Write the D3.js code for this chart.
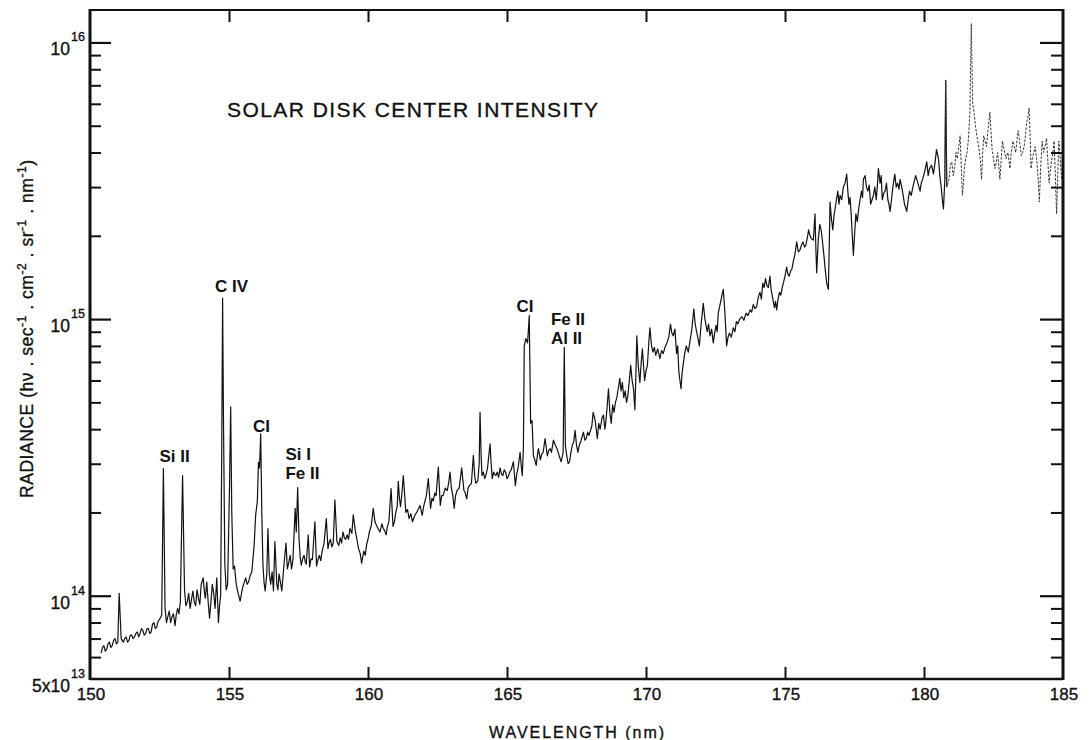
<!DOCTYPE html>
<html><head><meta charset="utf-8">
<script src="https://cdn.jsdelivr.net/npm/d3@7"></script>
<style>
html,body{margin:0;padding:0;background:#fff;}
text{font-family:"Liberation Sans","DejaVu Sans",sans-serif;fill:#111;}
</style></head>
<body><svg id="chart" width="1091" height="740"></svg>
<script>
// ---- data: [wavelength (nm), radiance in units of 1e14 photons s-1 cm-2 sr-1 nm-1] ----
const RADIANCE_UNIT = 1e14;
const spectrumPoints = [
[150.40,0.62],[150.45,0.65],[150.5,0.66],[150.55,0.63],[150.6,0.64],[150.65,0.67],[150.7,0.68],[150.75,0.65],[150.8,0.66],[150.85,0.69],[150.9,0.70],[150.95,0.67],[151.0,0.68],[151.05,1.02],[151.12,0.70],[151.2,0.68],[151.25,0.70],[151.3,0.71],[151.35,0.68],[151.4,0.69],[151.45,0.72],[151.5,0.72],[151.55,0.70],[151.6,0.71],[151.65,0.73],[151.7,0.74],[151.75,0.71],[151.8,0.73],[151.85,0.76],[151.9,0.75],[151.95,0.72],[152.0,0.73],[152.05,0.76],[152.1,0.76],[152.15,0.73],[152.2,0.74],[152.25,0.79],[152.3,0.80],[152.35,0.76],[152.4,0.77],[152.45,0.81],[152.5,0.82],[152.58,0.85],[152.64,2.88],[152.70,0.90],[152.75,0.80],[152.8,0.84],[152.85,0.88],[152.9,0.80],[152.95,0.84],[153.0,0.86],[153.06,0.78],[153.1,0.85],[153.15,0.90],[153.2,0.86],[153.25,0.95],[153.33,2.72],[153.4,1.05],[153.45,0.92],[153.5,0.95],[153.55,1.02],[153.6,0.90],[153.65,0.97],[153.7,1.04],[153.75,0.95],[153.8,0.92],[153.85,1.05],[153.9,0.98],[153.95,0.93],[154.0,1.10],[154.07,1.16],[154.12,1.02],[154.15,0.98],[154.2,1.12],[154.25,0.95],[154.3,0.83],[154.35,0.95],[154.4,1.10],[154.45,1.02],[154.5,0.90],[154.56,1.16],[154.62,0.80],[154.66,0.92],[154.7,1.00],[154.74,3.5],[154.77,11.9],[154.80,4.5],[154.85,1.3],[154.9,1.05],[154.95,1.1],[155.02,2.5],[155.06,4.82],[155.10,2.0],[155.15,1.25],[155.2,1.28],[155.25,1.12],[155.3,1.05],[155.35,1.0],[155.4,0.955],[155.45,1.02],[155.5,1.08],[155.55,1.12],[155.6,1.16],[155.65,1.10],[155.7,1.12],[155.76,1.18],[155.82,1.22],[155.9,1.5],[155.96,1.96],[156.02,2.2],[156.06,3.04],[156.1,2.9],[156.14,3.85],[156.18,2.0],[156.22,1.3],[156.26,1.12],[156.3,1.04],[156.36,1.2],[156.4,1.75],[156.45,1.2],[156.5,1.1],[156.55,1.22],[156.6,1.04],[156.65,1.57],[156.72,1.1],[156.76,1.05],[156.8,1.2],[156.85,1.12],[156.9,1.04],[156.98,1.3],[157.05,1.55],[157.1,1.25],[157.15,1.32],[157.2,1.4],[157.25,1.25],[157.3,1.35],[157.38,2.07],[157.42,1.7],[157.47,2.46],[157.52,1.6],[157.56,1.38],[157.6,1.29],[157.65,1.36],[157.7,1.4],[157.74,1.33],[157.78,1.3],[157.85,1.66],[157.9,1.27],[157.95,1.36],[158.0,1.35],[158.09,1.85],[158.15,1.28],[158.2,1.35],[158.25,1.4],[158.3,1.34],[158.35,1.45],[158.42,1.55],[158.5,1.9],[158.56,1.48],[158.6,1.55],[158.65,1.6],[158.7,1.5],[158.75,1.55],[158.81,2.22],[158.88,1.57],[158.95,1.52],[159.0,1.62],[159.05,1.55],[159.1,1.7],[159.15,1.62],[159.2,1.6],[159.25,1.66],[159.3,1.6],[159.35,1.75],[159.42,1.68],[159.47,1.96],[159.55,1.7],[159.6,1.6],[159.66,1.48],[159.72,1.42],[159.77,1.31],[159.82,1.4],[159.85,1.45],[159.9,1.4],[159.95,1.53],[160.0,1.6],[160.05,1.7],[160.12,1.8],[160.19,2.07],[160.25,1.85],[160.3,1.8],[160.36,1.75],[160.43,1.7],[160.5,1.82],[160.55,1.75],[160.6,1.72],[160.65,1.66],[160.7,1.78],[160.75,1.85],[160.83,2.44],[160.9,1.78],[160.95,1.85],[161.0,2.0],[161.05,2.1],[161.09,2.59],[161.13,2.25],[161.17,2.1],[161.22,2.35],[161.27,2.72],[161.32,2.3],[161.36,2.0],[161.42,2.05],[161.48,1.9],[161.54,1.98],[161.6,1.85],[161.68,1.95],[161.75,2.0],[161.8,2.05],[161.87,2.12],[161.95,1.95],[162.0,2.1],[162.05,2.2],[162.1,2.3],[162.17,2.65],[162.25,2.07],[162.3,2.25],[162.35,2.2],[162.4,2.35],[162.45,2.3],[162.53,2.92],[162.6,2.12],[162.65,2.3],[162.7,2.3],[162.78,2.45],[162.85,2.4],[162.9,2.55],[162.95,2.8],[163.0,2.45],[163.05,2.3],[163.1,2.07],[163.15,2.3],[163.2,2.4],[163.28,2.45],[163.37,2.9],[163.45,2.4],[163.5,2.35],[163.55,2.24],[163.6,2.45],[163.65,2.5],[163.72,2.55],[163.79,3.22],[163.84,2.7],[163.88,2.55],[163.95,2.6],[164.0,3.0],[164.03,4.6],[164.07,3.2],[164.1,2.72],[164.15,2.8],[164.2,2.65],[164.25,2.75],[164.3,2.9],[164.39,3.54],[164.43,3.0],[164.47,2.65],[164.52,2.8],[164.55,2.75],[164.6,2.72],[164.65,2.8],[164.7,2.68],[164.75,2.9],[164.8,2.75],[164.85,2.72],[164.9,2.85],[164.95,2.8],[165.0,2.65],[165.05,2.7],[165.1,2.8],[165.15,2.85],[165.23,3.05],[165.3,2.5],[165.35,2.75],[165.4,2.9],[165.47,3.3],[165.52,2.9],[165.55,2.72],[165.59,3.4],[165.62,8.0],[165.68,8.5],[165.74,8.2],[165.8,10.3],[165.85,4.2],[165.9,4.3],[165.95,3.2],[166.0,3.1],[166.05,2.96],[166.09,3.2],[166.13,3.4],[166.2,3.1],[166.25,3.25],[166.3,3.3],[166.37,3.7],[166.45,3.2],[166.5,3.35],[166.55,3.4],[166.6,3.3],[166.67,3.65],[166.74,3.5],[166.8,3.4],[166.88,3.2],[166.95,3.05],[167.02,3.3],[167.06,7.9],[167.1,3.5],[167.15,3.2],[167.2,3.0],[167.25,3.05],[167.3,3.3],[167.35,3.5],[167.4,3.6],[167.45,3.96],[167.5,3.5],[167.55,3.3],[167.6,3.5],[167.65,3.6],[167.7,3.75],[167.75,3.9],[167.8,3.65],[167.85,3.7],[167.9,3.9],[167.95,3.8],[168.0,3.95],
[168.05,4.1],[168.1,4.6],[168.17,4.3],[168.25,3.7],[168.3,4.2],[168.35,4.0],[168.42,4.4],[168.47,4.5],[168.52,4.0],[168.55,4.2],[168.6,4.8],[168.65,5.6],[168.7,4.6],[168.75,4.2],[168.8,4.9],[168.85,4.6],[168.9,5.0],[168.95,5.2],[169.0,5.6],[169.06,6.1],[169.1,5.5],[169.15,5.9],[169.2,5.2],[169.25,5.5],[169.3,5.0],[169.35,5.3],[169.4,6.0],[169.45,6.8],[169.5,6.0],[169.55,5.6],[169.6,4.7],[169.64,6.5],[169.67,8.7],[169.72,6.8],[169.78,5.9],[169.83,7.0],[169.87,7.8],[169.92,6.6],[169.95,6.0],[170.0,6.5],[170.05,6.8],[170.1,8.2],[170.14,9.3],[170.2,8.0],[170.25,7.6],[170.3,7.9],[170.35,7.4],[170.42,7.8],[170.5,7.2],[170.56,7.7],[170.62,7.5],[170.68,7.9],[170.75,8.2],[170.82,8.6],[170.88,9.6],[170.93,8.9],[170.98,8.7],[171.04,9.2],[171.1,7.5],[171.14,8.0],[171.18,6.5],[171.22,6.0],[171.26,5.6],[171.3,6.4],[171.35,7.0],[171.4,7.6],[171.45,8.0],[171.52,7.6],[171.58,8.3],[171.65,9.2],[171.72,10.9],[171.77,9.6],[171.82,9.0],[171.87,8.5],[171.92,8.0],[171.98,9.5],[172.06,11.4],[172.12,10.0],[172.2,9.0],[172.25,9.6],[172.3,8.7],[172.36,9.2],[172.42,8.2],[172.47,8.9],[172.52,9.5],[172.56,9.0],[172.6,10.5],[172.68,11.5],[172.74,12.3],[172.78,12.8],[172.84,10.5],[172.9,8.0],[172.95,8.6],[173.0,8.9],[173.07,8.6],[173.14,9.3],[173.2,9.0],[173.25,9.8],[173.3,9.6],[173.37,10.0],[173.45,10.2],[173.52,9.9],[173.6,10.5],[173.67,10.3],[173.75,10.8],[173.8,10.6],[173.86,11.3],[173.92,10.9],[173.98,11.1],[174.04,12.0],[174.1,12.5],[174.15,11.8],[174.2,13.5],[174.25,13.0],[174.3,14.0],[174.35,13.2],[174.4,13.0],[174.46,14.3],[174.5,12.8],[174.55,12.0],[174.62,11.0],[174.66,11.6],[174.7,10.8],[174.75,11.8],[174.8,12.5],[174.85,12.2],[174.9,13.0],[174.95,13.6],[175.0,14.3],[175.06,15.4],[175.1,14.6],[175.15,14.3],[175.2,14.9],[175.25,15.2],[175.3,16.2],[175.35,17.0],[175.42,19.0],[175.48,17.5],[175.54,17.8],[175.6,18.6],[175.65,19.0],[175.7,18.2],[175.75,18.5],[175.8,19.6],[175.85,21.0],[175.9,20.0],[175.95,19.5],[176.02,19.3],[176.08,24.0],[176.11,18.0],[176.14,14.7],[176.17,17.0],[176.2,19.5],[176.25,22.0],[176.3,21.0],[176.35,19.0],[176.4,17.0],[176.45,15.0],[176.5,13.5],[176.56,12.8],[176.59,18.0],[176.62,26.5],[176.67,23.0],[176.72,21.0],[176.76,23.5],[176.8,25.0],[176.85,27.0],[176.9,29.0],[176.94,26.0],[176.98,28.0],[177.04,27.0],[177.1,30.0],[177.16,31.0],[177.22,33.4],[177.26,29.0],[177.3,26.0],[177.34,27.5],[177.38,24.0],[177.42,20.0],[177.46,17.0],[177.5,20.0],[177.55,24.0],[177.6,22.5],[177.65,25.0],[177.7,27.0],[177.75,29.0],[177.79,27.5],[177.82,32.0],[177.88,33.0],[177.93,30.0],[177.98,29.0],[178.03,30.5],[178.08,26.0],[178.13,27.0],[178.18,28.0],[178.23,30.0],[178.28,27.0],[178.32,30.0],[178.36,35.0],[178.42,31.0],[178.46,33.0],[178.5,27.0],[178.55,28.5],[178.6,29.0],[178.65,31.0],[178.7,27.0],[178.74,26.0],[178.78,24.5],[178.83,27.0],[178.88,30.0],[178.92,32.0],[178.95,33.4],[179.0,30.0],[179.05,31.0],[179.1,29.5],[179.14,32.0],[179.2,30.0],[179.25,28.0],[179.3,26.0],[179.38,24.5],[179.43,27.0],[179.48,29.0],[179.54,28.0],[179.6,30.0],[179.65,31.5],[179.7,33.0],[179.78,31.0],[179.86,29.0],[179.9,31.0],[179.95,32.0],[180.02,34.0],[180.1,37.0],[180.15,33.0],[180.2,35.0],[180.27,36.0],[180.34,33.5],[180.4,37.0],[180.45,41.0],[180.52,38.0],[180.57,33.0],[180.62,30.0],[180.66,27.0],[180.7,25.0],[180.75,32.0],[180.78,73.0],[180.82,30.0],
[180.9,32.0],[180.95,36.0],[181.0,37.0],[181.05,33.0],[181.1,35.0],[181.15,40.0],[181.2,38.0],[181.25,42.0],[181.3,46.0],[181.34,36.0],[181.38,28.0],[181.42,31.0],[181.45,35.0],[181.5,38.0],[181.55,40.0],[181.6,45.0],[181.65,56.0],[181.7,117.0],[181.75,60.0],[181.8,56.0],[181.85,50.0],[181.9,46.0],[181.95,43.0],[182.0,40.0],[182.04,36.0],[182.07,32.0],[182.11,40.0],[182.15,46.0],[182.2,44.0],[182.25,42.0],[182.3,48.0],[182.37,56.0],[182.41,48.0],[182.45,41.0],[182.5,38.0],[182.55,35.0],[182.6,37.0],[182.65,40.0],[182.69,36.0],[182.73,32.0],[182.78,38.0],[182.82,44.0],[182.88,41.0],[182.95,38.0],[183.02,40.0],[183.09,35.0],[183.14,40.0],[183.2,44.0],[183.25,42.0],[183.3,40.0],[183.35,45.0],[183.39,48.0],[183.45,43.0],[183.5,39.0],[183.55,40.0],[183.6,42.0],[183.65,46.0],[183.69,51.0],[183.74,54.0],[183.78,58.0],[183.82,45.0],[183.85,35.0],[183.9,38.0],[183.95,40.0],[184.0,42.0],[184.05,38.0],[184.1,33.0],[184.15,26.5],[184.2,36.0],[184.25,44.0],[184.3,40.0],[184.35,42.0],[184.41,45.0],[184.45,38.0],[184.5,31.0],[184.55,35.0],[184.6,38.0],[184.65,41.0],[184.68,44.0],[184.72,34.0],[184.77,24.0],[184.81,33.0],[184.85,44.0],[184.9,38.0],[184.95,32.0],[185.0,34.0]
];
const wavelength = spectrumPoints.map(p=>p[0]);
const radiance = spectrumPoints.map(p=>p[1]);
const xTicks = [150,155,160,165,170,175,180,185];
const yMajorTicks = [1e14,1e15,1e16];
const yMinorTicks = [6e13,7e13,8e13,9e13,2e14,3e14,4e14,5e14,6e14,7e14,8e14,9e14,2e15,3e15,4e15,5e15,6e15,7e15,8e15,9e15];
const yLabelValues = [5e13,1e14,1e15,1e16];
const yLabelBases = ["5x10","10","10","10"];
const yLabelExps = ["13","14","15","16"];
const lineLabels = [["Si II"],["C IV"],["CI"],["Si I","Fe II"],["CI"],["Fe II","Al II"]];
const lineLabelWavelength = [153.04,155.09,156.17,157.03,165.65,166.58];
const lineLabelRadiance = [3.04e14,1.25e15,3.9e14,3.09e14,1.06e15,9.5e14];
const lineLabelAnchor = ["middle","middle","middle","start","middle","start"];
const DOTTED_FROM = 180.85;

// ---- layout ----
const L = 90, R = 1063, T = 10, B = 679;
const svg = d3.select("#chart");
const x = d3.scaleLinear().domain([150,185]).range([L,R]);
const y = d3.scaleLog().domain([5e13,1.31e16]).range([B,T]);

const pts = wavelength.map((w,i)=>({w, v: radiance[i]*RADIANCE_UNIT}));
const line = d3.line().x(d=>x(d.w)).y(d=>y(d.v));
const solid = pts.filter(d=>d.w<=DOTTED_FROM+0.001);
const dotted = pts.filter(d=>d.w>=DOTTED_FROM-0.1);
svg.append("path").datum(solid).attr("d",line)
  .attr("fill","none").attr("stroke","#111").attr("stroke-width",1.2).attr("stroke-linejoin","round");
svg.append("path").datum(dotted).attr("d",line)
  .attr("fill","none").attr("stroke","#333").attr("stroke-width",1).attr("stroke-dasharray","2.5,1.5").attr("stroke-linejoin","round");

// ---- axes ----
function styleAxis(g, w){
  g.select(".domain").remove();
  g.selectAll(".tick line").attr("stroke","#111").attr("stroke-width",w);
  g.selectAll(".tick text").remove();
}
svg.append("g").attr("transform",`translate(${L},0)`)
  .call(d3.axisRight(y).tickValues(yMajorTicks).tickSize(21).tickFormat(""))
  .call(g=>styleAxis(g,2.2));
svg.append("g").attr("transform",`translate(${L},0)`)
  .call(d3.axisRight(y).tickValues(yMinorTicks).tickSize(11).tickFormat(""))
  .call(g=>styleAxis(g,2));
svg.append("g").attr("transform",`translate(${R},0)`)
  .call(d3.axisLeft(y).tickValues(yMajorTicks).tickSize(23).tickFormat(""))
  .call(g=>styleAxis(g,2.2));
svg.append("g").attr("transform",`translate(${R},0)`)
  .call(d3.axisLeft(y).tickValues(yMinorTicks).tickSize(12).tickFormat(""))
  .call(g=>styleAxis(g,2));
svg.append("g").attr("transform",`translate(0,${B})`)
  .call(d3.axisTop(x).tickValues(xTicks.slice(1,-1)).tickSize(12).tickFormat(""))
  .call(g=>styleAxis(g,2));
svg.append("g").attr("transform",`translate(0,${T})`)
  .call(d3.axisBottom(x).tickValues(xTicks.slice(1,-1)).tickSize(12).tickFormat(""))
  .call(g=>styleAxis(g,2));

// frame
svg.append("line").attr("x1",L).attr("x2",L).attr("y1",T-1).attr("y2",B+1).attr("stroke","#111").attr("stroke-width",3);
svg.append("line").attr("x1",R).attr("x2",R).attr("y1",T-1).attr("y2",B+1).attr("stroke","#111").attr("stroke-width",3);
svg.append("line").attr("x1",L).attr("x2",R).attr("y1",B).attr("y2",B).attr("stroke","#111").attr("stroke-width",2.6);
svg.append("line").attr("x1",L).attr("x2",R).attr("y1",T).attr("y2",T).attr("stroke","#111").attr("stroke-width",2.2);

const heavy = sel => sel.attr("stroke","#111").attr("stroke-width",0.35);

// x tick labels
svg.append("g").selectAll("text").data(xTicks).join("text")
  .attr("x",d=>x(d)+1).attr("y",B+21).attr("text-anchor","middle")
  .style("font-size","17px").call(heavy).text(d=>d);

// y tick labels
yLabelValues.forEach((v,i)=>{
  svg.append("text").attr("x",70).attr("y",y(v)+13).attr("text-anchor","end").style("font-size","17.5px").call(heavy).text(yLabelBases[i]);
  svg.append("text").attr("x",71).attr("y",y(v)-1).attr("text-anchor","start").style("font-size","12.5px").call(heavy).text(yLabelExps[i]);
});

// axis titles
svg.append("text").attr("x",(L+R)/2).attr("y",738).attr("text-anchor","middle")
  .attr("textLength",175).attr("lengthAdjust","spacing").style("font-size","16px").call(heavy).text("WAVELENGTH (nm)");

const yl = svg.append("text").attr("transform","translate(33,329) rotate(-90)").attr("text-anchor","middle")
  .attr("textLength",338).attr("lengthAdjust","spacing").style("font-size","17.5px").call(heavy);
const ylParts = [["RADIANCE (hν . sec",false],["-1",true],[" . cm",false],["-2",true],[" . sr",false],["-1",true],[" . nm",false],["-1",true],[")",false]];
ylParts.forEach(([s,sup],k)=>{
  const ts = yl.append("tspan").text(s);
  if(sup){ ts.attr("dy",-7).style("font-size","12px"); }
  else if(k>0){ ts.attr("dy",7); }
});

// chart title
svg.append("text").attr("x",227).attr("y",117).attr("textLength",371).attr("lengthAdjust","spacing")
  .style("font-size","21px").call(heavy).text("SOLAR DISK CENTER INTENSITY");

// spectral line labels
lineLabels.forEach((lines,i)=>{
  lines.forEach((s,j)=>{
    svg.append("text").attr("x",x(lineLabelWavelength[i])).attr("y",y(lineLabelRadiance[i])+j*19)
      .attr("text-anchor",lineLabelAnchor[i]).style("font-size","17px").style("font-weight","600").text(s);
  });
});
</script></body></html>
